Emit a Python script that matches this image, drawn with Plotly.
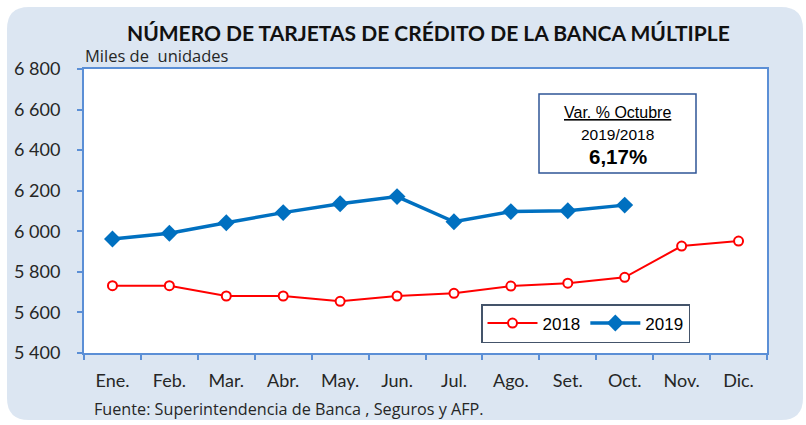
import plotly.graph_objects as go

months = ["Ene.", "Feb.", "Mar.", "Abr.", "May.", "Jun.", "Jul.", "Ago.", "Set.", "Oct.", "Nov.", "Dic."]
v2018 = [5732, 5732, 5681, 5681, 5655, 5681, 5694, 5730, 5744, 5773, 5927, 5952]
v2019 = [5962, 5990, 6042, 6092, 6136, 6171, 6047, 6097, 6101, 6129]
y_ticks = [5400, 5600, 5800, 6000, 6200, 6400, 6600, 6800]

title_text = "NÚMERO DE TARJETAS DE CRÉDITO DE LA BANCA MÚLTIPLE"
unit_text = "Miles de  unidades"
source_text = "Fuente: Superintendencia de Banca , Seguros y AFP."

W, H = 806, 425
L, R, T, B = 84, 767, 69, 353
pw, ph = R - L, B - T

def px(x):
    return (x - L) / pw

def py(y):
    return (B - y) / ph

CAL = "Lato, 'Open Sans', sans-serif"
OPS = "'Open Sans', Lato, sans-serif"
ARI = "'Liberation Sans', Arial, sans-serif"
AXC = "#5B8FD6"
TXT = "#262626"

fig = go.Figure()
fig.add_trace(go.Scatter(
    x=months, y=v2018, name="2018", mode="lines+markers",
    line=dict(color="#FF0000", width=2),
    marker=dict(symbol="circle", size=9, color="white", line=dict(color="#FF0000", width=2)),
))
fig.add_trace(go.Scatter(
    x=months[:len(v2019)], y=v2019, name="2019", mode="lines+markers",
    line=dict(color="#0070C0", width=3.5),
    marker=dict(symbol="diamond", size=13, color="#0070C0", line=dict(color="#0070C0", width=0)),
))

# rounded background
x0, x1, y0, y1, r = 7, 803, 7, 420, 22
def P(x, y):
    return f"{px(x):.5f},{py(y):.5f}"
path = (f"M {P(x0 + r, y0)} L {P(x1 - r, y0)} Q {P(x1, y0)} {P(x1, y0 + r)} "
        f"L {P(x1, y1 - r)} Q {P(x1, y1)} {P(x1 - r, y1)} "
        f"L {P(x0 + r, y1)} Q {P(x0, y1)} {P(x0, y1 - r)} "
        f"L {P(x0, y0 + r)} Q {P(x0, y0)} {P(x0 + r, y0)} Z")
shapes = [
    dict(type="path", xref="paper", yref="paper", path=path,
         fillcolor="#DCE6F2", line=dict(width=0), layer="below"),
    dict(type="rect", xref="paper", yref="paper", x0=0, x1=1, y0=0, y1=1,
         fillcolor="white", line=dict(width=0), layer="below"),
    dict(type="rect", xref="paper", yref="paper", x0=px(539), x1=px(696), y0=py(173), y1=py(94),
         fillcolor="white", line=dict(color="#2F5597", width=1.5)),
]

annotations = [
    dict(text=f"<b>{title_text}</b>", x=px(428), y=py(32), xref="paper", yref="paper",
         showarrow=False, xanchor="center", yanchor="middle",
         font=dict(family=CAL, size=21, color="#111111")),
    dict(text=unit_text, x=px(83), y=py(56), xref="paper", yref="paper",
         showarrow=False, xanchor="left", yanchor="middle",
         font=dict(family=OPS, size=16.5, color=TXT)),
    dict(text=source_text, x=px(92), y=py(409), xref="paper", yref="paper",
         showarrow=False, xanchor="left", yanchor="middle",
         font=dict(family=OPS, size=16.2, color=TXT)),
    dict(text="<u>Var. % Octubre</u>", x=px(617.5), y=py(112), xref="paper", yref="paper",
         showarrow=False, xanchor="center", yanchor="middle",
         font=dict(family=ARI, size=16, color="#000000")),
    dict(text="2019/2018", x=px(617.5), y=py(134), xref="paper", yref="paper",
         showarrow=False, xanchor="center", yanchor="middle",
         font=dict(family=ARI, size=15.5, color="#000000")),
    dict(text="<b>6,17%</b>", x=px(617.5), y=py(156), xref="paper", yref="paper",
         showarrow=False, xanchor="center", yanchor="middle",
         font=dict(family=ARI, size=20.5, color="#000000")),
]

fig.update_layout(
    width=W, height=H,
    margin=dict(l=L, r=W - R, t=T, b=H - B, pad=0),
    paper_bgcolor="white", plot_bgcolor="white",
    separators=", ",
    shapes=shapes, annotations=annotations,
    showlegend=True,
    legend=dict(orientation="h", x=px(481), y=py(304), xanchor="left", yanchor="top",
                bgcolor="white", bordercolor="#44546A", borderwidth=1.5,
                font=dict(family=ARI, size=17, color="#000000"),
                itemwidth=50, tracegroupgap=0),
    xaxis=dict(type="category", categoryorder="array", categoryarray=months,
               range=[-0.5, len(months) - 0.5], autorange=False,
               showgrid=False, zeroline=False, showline=True, mirror=True,
               linecolor=AXC, linewidth=2, ticks="outside", ticklen=5, tickcolor=AXC,
               tickwidth=1.5, tickson="boundaries", ticklabelstandoff=10,
               tickfont=dict(family=CAL, size=18, color=TXT), fixedrange=True),
    yaxis=dict(range=[5400, 6800], tickvals=y_ticks, tickformat=",d",
               showgrid=False, zeroline=False, showline=True, mirror=True,
               linecolor=AXC, linewidth=2, ticks="outside", ticklen=5, tickcolor=AXC,
               tickwidth=1.5, ticklabelstandoff=13,
               tickfont=dict(family=CAL, size=18, color=TXT), fixedrange=True),
)

fig.write_html("out.html", config={"displayModeBar": False},
               post_script="document.body.style.margin='0';document.body.style.overflow='hidden';")
